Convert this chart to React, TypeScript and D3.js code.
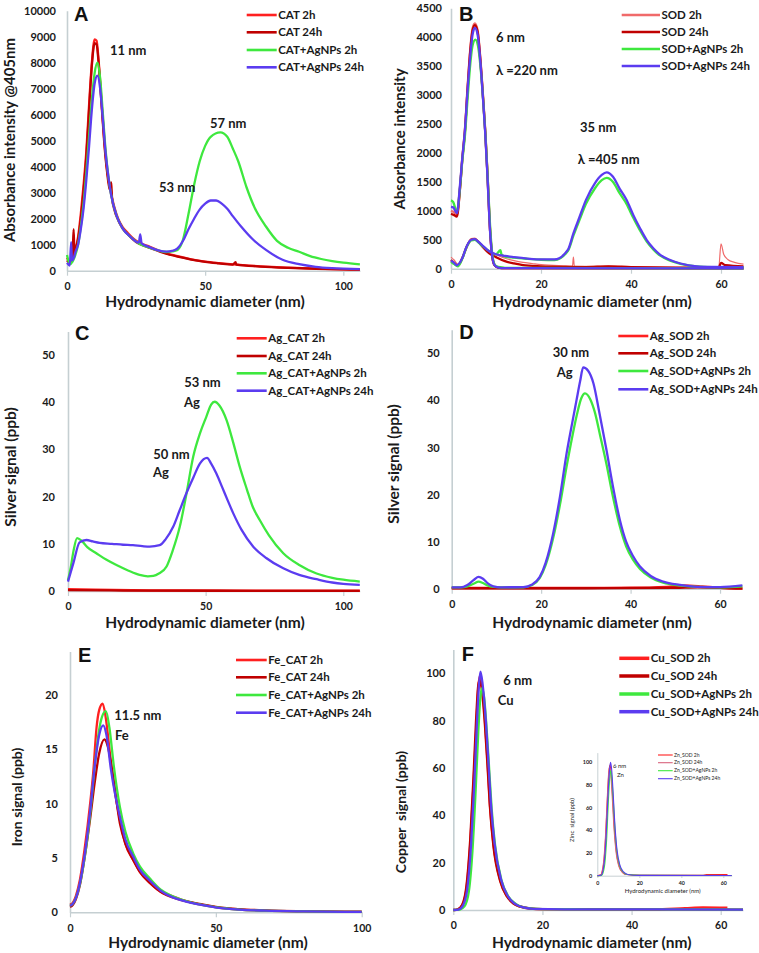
import React, { useEffect, useRef } from 'react';
import * as d3 from 'd3';

type Pt = [number, number];

// colours of the four sample series
const RED = '#ff2020';
const DARK_RED = '#c00000';
const GREEN = '#3ee83e';
const BLUE = '#5b3cf0';
const LIGHT_RED = '#f06a6a';
const PINK = '#d8637c';

// ---------- A: CAT, absorbance @405nm ----------
const catA_2h: Pt[] = [[0,500],[1,350],[2,500],[3,800],[4,1300],[5,2200],[6,3300],[7,4600],[8,6400],[9,8000],[10,8900],[10.7,8850],[11.5,8000],[12.5,6500],[13.5,5000],[14.5,3900],[15.5,3200],[17,2500],[18.5,2000],[20,1700],[22,1450],[25,1150],[28,1000],[30,920],[35,700],[40,560],[45,440],[50,350],[55,290],[60,240],[70,170],[80,120],[90,80],[100,55],[106,45]];
const catA_24h: Pt[] = [[0,400],[1,300],[2,600],[2.4,1600],[2.7,700],[3,800],[4,1200],[5,2000],[6,3100],[7,4400],[8,6200],[9,7900],[10,8750],[10.7,8700],[11.5,7900],[12.5,6400],[13.5,4900],[14.5,3800],[15.5,3100],[16,3400],[16.3,2800],[17,2400],[18.5,1950],[20,1650],[22,1400],[25,1100],[28,950],[30,880],[35,680],[40,540],[45,430],[50,340],[55,280],[60,230],[61,330],[61.3,230],[70,160],[80,110],[90,75],[100,50],[106,40]];
const catA_ag2h: Pt[] = [[0,600],[1,250],[2,350],[3,600],[4,1000],[5,1700],[6,2600],[7,3800],[8,5200],[9,6600],[10,7600],[11,8000],[12,7400],[13,6000],[14,4600],[15,3600],[16,2900],[18,2100],[20,1650],[23,1300],[26,1050],[30,880],[33,780],[36,720],[38,740],[40,800],[42,1200],[44,2200],[46,3300],[48,4200],[50,4800],[52,5150],[55.5,5320],[58,5150],[60,4700],[62,4200],[65,3200],[68,2400],[72,1700],[76,1150],[80,880],[84,730],[88,560],[92,450],[96,370],[100,310],[106,245]];
const catA_ag24h: Pt[] = [[0,300],[1,200],[1.5,1100],[1.8,400],[2.5,500],[3,700],[4,1000],[5,1600],[6,2400],[7,3500],[8,4800],[9,6200],[10,7200],[11,7500],[12,7000],[13,5800],[14,4500],[15,3600],[16,2900],[18,2100],[20,1650],[23,1300],[26,1080],[26.5,1400],[27,1050],[30,900],[33,780],[36,730],[38,760],[40,860],[42,1150],[44,1600],[46,2000],[48,2350],[50,2580],[52,2700],[54,2700],[56,2580],[58,2380],[60,2100],[63,1700],[67.5,1180],[72,800],[78,420],[84,250],[90,150],[96,100],[100,80],[106,60]];

// ---------- B: SOD, absorbance at 220 nm and 405 nm ----------
const sod_2h_220: Pt[] = [[0,1000],[0.6,980],[1.3,940],[2,1400],[2.5,1900],[3.1,2400],[3.7,3150],[4.3,3800],[4.8,4150],[5.3,4240],[5.9,4120],[6.5,3650],[7.1,3000],[7.6,2400],[8.1,1650],[8.7,650],[9.2,200],[9.7,60],[10.5,20],[12,10],[30,5],[65,5]];
const sod_24h_220: Pt[] = [[0,950],[0.6,930],[1.3,900],[2,1380],[2.5,1880],[3.1,2380],[3.7,3120],[4.3,3780],[4.8,4120],[5.3,4210],[5.9,4100],[6.5,3630],[7.1,2980],[7.6,2380],[8.1,1630],[8.7,640],[9.2,190],[9.7,60],[10.5,20],[12,10],[65,5]];
const sod_ag2h_220: Pt[] = [[0,1180],[0.5,1150],[1.3,980],[2,1400],[2.5,1850],[3.1,2300],[3.7,2950],[4.3,3550],[4.8,3860],[5.4,3960],[6,3850],[6.6,3450],[7.2,2850],[7.7,2250],[8.2,1500],[8.8,600],[9.3,180],[9.8,60],[10.5,30],[12,15],[65,5]];
const sod_ag24h_220: Pt[] = [[0,1070],[0.5,1060],[1.3,960],[2,1450],[2.5,1900],[3.1,2400],[3.7,3100],[4.3,3700],[4.8,4050],[5.3,4160],[5.9,4050],[6.5,3600],[7.1,2950],[7.6,2350],[8.1,1600],[8.7,620],[9.2,200],[9.7,60],[10.5,20],[12,10],[65,5]];
const sod_2h_405: Pt[] = [[0,200],[0.7,150],[1.5,80],[2.5,200],[3.5,400],[4.5,520],[5.3,530],[6,480],[7,400],[8,320],[9,270],[10,240],[12,180],[14,140],[16,110],[18,90],[20,70],[25,50],[27,45],[27.2,200],[27.4,45],[30,40],[35,45],[40,30],[50,25],[59.5,25],[60,430],[60.6,250],[61.5,160],[63,110],[65,80]];
const sod_24h_405: Pt[] = [[0,150],[0.7,100],[1.5,50],[2.5,180],[3.5,380],[4.5,500],[5.3,510],[6,470],[7,380],[8,300],[9,240],[10,200],[12,130],[14,90],[16,60],[20,40],[25,30],[30,28],[35,40],[40,28],[50,20],[59.5,20],[60,100],[61,60],[65,40]];
const sod_ag2h_405: Pt[] = [[0,120],[0.7,80],[1.5,40],[2.5,170],[3.5,380],[4.5,490],[5.3,500],[6,460],[7,390],[8,330],[9,280],[10,250],[11,320],[11.2,250],[12,210],[14,190],[17,170],[20,155],[23,150],[26,310],[27.2,570],[28.5,830],[30,1120],[32,1390],[33.5,1530],[34.6,1570],[36,1500],[37.5,1300],[39,1120],[40.5,880],[42,660],[43.5,470],[45,330],[46.5,225],[48.7,140],[51,85],[54.6,40],[58,28],[65,22]];
const sod_ag24h_405: Pt[] = [[0,140],[0.7,100],[1.3,60],[2.5,180],[3.5,390],[4.5,500],[5.3,510],[6,470],[7,400],[8,330],[9,280],[10,250],[12,220],[14,200],[17,175],[20,160],[23,160],[26,330],[27.2,610],[28.5,880],[30,1190],[32,1480],[33.5,1620],[34.6,1665],[36,1590],[37.5,1380],[39,1190],[40.5,930],[42,700],[43.5,495],[45,350],[46.5,240],[48.7,150],[51,90],[54.6,40],[58,30],[65,25]];

// ---------- C: Ag signal, CAT ----------
const agCat_2h: Pt[] = [[0,0.4],[10,0.3],[30,0.15],[60,0.1],[106,0.05]];
const agCat_24h: Pt[] = [[0,0.2],[20,0.1],[106,0.02]];
const agCat_ag2h: Pt[] = [[0,2.3],[1,5],[2,8.5],[3.3,11.2],[5,10.6],[7,9.3],[10.3,8],[14,6.6],[17.6,5.5],[22,4.3],[26,3.4],[29,3.1],[31,3.2],[33,3.7],[35.8,5.2],[38,8.5],[40.6,13.6],[43,20.5],[45.5,28.5],[48,33.5],[50.3,37],[52,39.5],[53.3,40.1],[55,39.3],[57.6,36.2],[60,31.5],[62.4,26.3],[65,21.5],[67,18],[69.7,15],[73,11.8],[78.2,8],[84,5.5],[90.3,3.7],[96,2.8],[100,2.4],[106,2]];
const agCat_ag24h: Pt[] = [[0,2],[2,6],[4.2,10.3],[6.7,10.8],[9,10.5],[11.5,10.2],[16,10],[20,9.8],[23.6,9.7],[27,9.5],[29.7,9.4],[33.3,9.7],[35.5,11],[38.2,13.6],[40.5,17],[43,20.7],[45.5,24],[47.9,27],[50.5,28.2],[52,27],[53.9,24.9],[56,22],[58,19.2],[60,16.5],[63,13],[67.3,9.4],[72,7],[78.2,4.8],[84,3.4],[90.3,2.5],[96,1.8],[100,1.5],[106,1.3]];

// ---------- D: Ag signal, SOD ----------
const agSod_2h: Pt[] = [[0,0.15],[20,0.15],[40,0.2],[48,0.4],[52,0.7],[56,0.5],[60,0.2],[65,0.1]];
const agSod_24h: Pt[] = [[0,0.1],[30,0.1],[50,0.2],[55,0.3],[62,0.1],[65,0]];
const agSod_ag2h: Pt[] = [[0,0.3],[2,0.3],[3.5,0.5],[5,1.1],[6,1.5],[7,1.2],[8,0.7],[9.3,0.4],[11,0.3],[16,0.3],[18,0.8],[19.7,2.3],[21,5],[22.7,10.8],[24.2,17.8],[25.7,26],[27,32.5],[28,37],[29,40.5],[29.8,41.5],[31,40.2],[32,37.5],[33.2,32.5],[34.6,26.5],[36,19.8],[37.6,13.2],[39,9],[40.5,6.2],[42.1,4.2],[44.5,2.4],[47.3,1.3],[51,0.7],[54.8,0.4],[60,0.3],[65,0.5]];
const agSod_ag24h: Pt[] = [[0,0.3],[2,0.3],[3.5,0.8],[5,1.9],[6,2.5],[7,2.1],[8,1.2],[9.3,0.5],[11,0.3],[16,0.35],[18,0.9],[19.7,2.5],[21,5.5],[22.7,11.8],[24.2,19.5],[25.7,28.8],[27,35.5],[27.9,40],[28.7,44],[29.4,47],[30.5,46.3],[31.7,43.6],[33,37.5],[34.6,29.5],[36,22],[37.6,14.6],[39,10],[40.5,7],[42.1,4.7],[44.5,2.7],[47.3,1.5],[51,0.8],[54.8,0.4],[60,0.35],[65,0.7]];

// ---------- E: Fe signal, CAT ----------
const feCat_2h: Pt[] = [[0,0.7],[1,0.9],[2,1.5],[3.4,3],[5,5.8],[6.9,10],[8,13],[9.1,17],[10,18.6],[11.2,19.2],[12.2,18],[13.7,14.6],[15,11.8],[17.1,8.5],[19,6.3],[21.7,4.8],[24,3.7],[27.4,2.7],[31,1.9],[35,1.5],[38.9,1.1],[44,0.75],[50.3,0.46],[58,0.25],[67,0.15],[80,0.08],[100,0.03]];
const feCat_24h: Pt[] = [[0,0.5],[1,0.7],[2,1.2],[3.4,2.5],[5,5],[6.9,8.6],[8.5,12],[10,14.6],[11.8,15.9],[13,15.2],[14.5,13],[17.1,8.2],[19,6.3],[21.7,4.8],[24,3.7],[27.4,2.7],[30,2.1],[33,1.6],[36,1.3],[40,1],[45,0.75],[50,0.5],[58,0.3],[67,0.18],[80,0.1],[100,0.05]];
const feCat_ag2h: Pt[] = [[0,0.6],[1,0.8],[2,1.3],[3.4,2.6],[5,5],[6.9,9],[8.5,13.5],[10,16.8],[11,18],[12.3,18.5],[13.5,17],[15,13.5],[17.1,9.7],[19,7.4],[21.7,5.4],[24,4.2],[27.4,3.1],[31,2.1],[35,1.5],[38.9,1.1],[44,0.75],[50.3,0.45],[58,0.25],[67,0.15],[80,0.08],[100,0.03]];
const feCat_ag24h: Pt[] = [[0,0.6],[1,0.8],[2,1.3],[3.4,2.7],[5,5.2],[6.9,9.3],[8.5,13.5],[10,16.3],[11.4,17.2],[12.5,16.3],[14,13.2],[15.5,10.8],[17.1,8.8],[19,6.7],[21.7,5.1],[24,3.9],[27.4,2.9],[31,2],[35,1.4],[38.9,1.05],[44,0.72],[50.3,0.44],[58,0.25],[67,0.15],[80,0.08],[100,0.03]];

// ---------- F: Cu signal, SOD ----------
const cuSod_2h: Pt[] = [[0,0],[1,0.3],[2,2],[3,10],[3.8,28],[4.5,52],[5.1,75],[5.6,94],[6,99],[6.5,94],[7.1,80],[7.7,62],[8.2,45],[9,28],[10.5,12.7],[12,6],[13.5,2.8],[15,1.5],[17.2,0.7],[20,0.4],[30,0.3],[45,0.3],[52,0.8],[56,1.1],[61.5,1]];
const cuSod_24h: Pt[] = [[0,0],[1,0.3],[2,2.2],[3,11],[3.8,30],[4.5,55],[5.1,80],[5.6,95],[5.9,97],[6.4,93],[7.1,78],[7.7,60],[8.2,44],[9,27],[10.5,12.3],[12,5.8],[13.5,2.7],[15,1.4],[17.2,0.6],[20,0.35],[40,0.3],[65,0.2]];
const cuSod_ag2h: Pt[] = [[0,0],[1.5,0.2],[2.5,1.5],[3.5,8],[4.3,25],[5,50],[5.6,75],[6,88],[6.4,93.7],[6.9,90],[7.5,76],[8.1,58],[8.6,43],[9.4,27],[10.9,12],[12.4,5.6],[14,2.6],[16,1],[20,0.4],[30,0.3],[65,0.2]];
const cuSod_ag24h: Pt[] = [[0,0],[1.2,0.2],[2.2,2],[3.2,10],[4,28],[4.7,53],[5.3,79],[5.8,96],[6.1,100.7],[6.6,95],[7.3,80],[7.9,62],[8.4,46],[9.2,29],[10.7,13],[12.2,6],[13.7,2.8],[15.5,1.2],[18,0.5],[25,0.3],[65,0.2]];

// ---------- F inset: Zn signal, SOD ----------
const znSod_2h: Pt[] = [[0,0],[1.5,0.5],[3,10],[4,35],[5,75],[5.6,92],[6,97],[6.5,92],[7.2,72],[8,45],[9,22],[10.5,8],[12,3],[14,1],[20,0.3],[50,0.3],[52,1],[62,1]];
const znSod_24h: Pt[] = [[0,0],[1.5,0.6],[3,12],[4,38],[5,78],[5.5,92],[5.8,95],[6.3,91],[7,73],[7.8,46],[8.8,23],[10.3,8],[12,3],[14,1],[20,0.3],[64,0.2]];
const znSod_ag2h: Pt[] = [[0,0],[2,0.3],[3.4,8],[4.4,30],[5.4,70],[6,88],[6.3,92],[6.8,88],[7.5,70],[8.3,44],[9.3,22],[10.8,8],[12.5,3],[14.5,1],[20,0.3],[64,0.2]];
const znSod_ag24h: Pt[] = [[0,0],[1.8,0.4],[3.2,10],[4.2,34],[5.2,74],[5.9,94],[6.3,99.5],[6.8,94],[7.5,74],[8.3,47],[9.3,24],[10.8,9],[12.5,3.3],[14.5,1.1],[20,0.3],[64,0.2]];

const ticks = {
  aY: d3.range(0, 10001, 1000), aX: [0, 50, 100],
  bY: d3.range(0, 4501, 500), bX: [0, 20, 40, 60],
  cY: [0, 10, 20, 30, 40, 50], cX: [0, 50, 100],
  dY: [0, 10, 20, 30, 40, 50], dX: [0, 20, 40, 60],
  eY: [0, 5, 10, 15, 20], eX: [0, 50, 100],
  fY: [0, 20, 40, 60, 80, 100], fX: [0, 20, 40, 60],
};

const FONT = "Lato, 'Open Sans', sans-serif";

const panels = [
  {
    letter: 'A', letterPos: [74, 14],
    frame: { left: 67, right: 359.9, bottom: 270.7, top: 10.7 },
    xDomain: [0, 106], yDomain: [0, 10000], xTicks: ticks.aX, yTicks: ticks.aY, yPad: 11,
    yTitle: 'Absorbance intensity @405nm', yTitlePos: [10, 140], yTitleSize: 15,
    xTitlePos: [205, 302],
    series: [
      { name: 'CAT 2h', color: RED, data: [catA_2h] },
      { name: 'CAT 24h', color: DARK_RED, data: [catA_24h] },
      { name: 'CAT+AgNPs 2h', color: GREEN, data: [catA_ag2h] },
      { name: 'CAT+AgNPs 24h', color: BLUE, data: [catA_ag24h] },
    ],
    legend: { x1: 246.7, x2: 276.7, ys: [15, 32.3, 50, 67.3], size: 11.5 },
    notes: [['11 nm', 110, 50], ['57 nm', 210, 123], ['53 nm', 159, 187]],
  },
  {
    letter: 'B', letterPos: [459, 14],
    frame: { left: 451, right: 743.5, bottom: 268.7, top: 8.3 },
    xDomain: [0, 65], yDomain: [0, 4500], xTicks: ticks.bX, yTicks: ticks.bY, yPad: 9,
    yTitle: 'Absorbance intensity', yTitlePos: [399.5, 139], yTitleSize: 15,
    xTitlePos: [592, 302],
    series: [
      { name: 'SOD 2h', color: LIGHT_RED, legendColor: LIGHT_RED, data: [sod_2h_405, sod_2h_220], widths: [1.2, 2.4] },
      { name: 'SOD 24h', color: DARK_RED, data: [sod_24h_405, sod_24h_220] },
      { name: 'SOD+AgNPs 2h', color: GREEN, data: [sod_ag2h_405, sod_ag2h_220] },
      { name: 'SOD+AgNPs 24h', color: BLUE, data: [sod_ag24h_405, sod_ag24h_220] },
    ],
    legend: { x1: 621.7, x2: 660, ys: [15, 32, 49, 66], size: 11.5 },
    notes: [['6 nm', 496, 37], ['λ =220 nm', 496, 70], ['35 nm', 580, 127], ['λ =405 nm', 577.7, 159]],
  },
  {
    letter: 'C', letterPos: [75, 333],
    frame: { left: 68, right: 359.8, bottom: 591, top: 331.4 },
    xDomain: [0, 106], yDomain: [0, 55], xTicks: ticks.cX, yTicks: ticks.cY, yPad: 13,
    yTitle: 'Silver signal (ppb)', yTitlePos: [11, 467], yTitleSize: 15.5,
    xTitlePos: [205, 623],
    series: [
      { name: 'Ag_CAT 2h', color: RED, data: [agCat_2h] },
      { name: 'Ag_CAT 24h', color: DARK_RED, data: [agCat_24h] },
      { name: 'Ag_CAT+AgNPs 2h', color: GREEN, data: [agCat_ag2h] },
      { name: 'Ag_CAT+AgNPs 24h', color: BLUE, data: [agCat_ag24h] },
    ],
    legend: { x1: 236.7, x2: 266.7, ys: [338.3, 356, 373.3, 390.7], size: 11.5 },
    notes: [['53 nm', 184.3, 382.7], ['Ag', 184, 402.3], ['50 nm', 153.3, 454], ['Ag', 153, 472.7]],
  },
  {
    letter: 'D', letterPos: [459.3, 331.7],
    frame: { left: 451.7, right: 742.4, bottom: 588.7, top: 329.8 },
    xDomain: [0, 65], yDomain: [0, 55], xTicks: ticks.dX, yTicks: ticks.dY, yPad: 12,
    yTitle: 'Silver signal (ppb)', yTitlePos: [394, 464], yTitleSize: 15.5,
    xTitlePos: [592, 623],
    series: [
      { name: 'Ag_SOD 2h', color: RED, data: [agSod_2h] },
      { name: 'Ag_SOD 24h', color: DARK_RED, data: [agSod_24h] },
      { name: 'Ag_SOD+AgNPs 2h', color: GREEN, data: [agSod_ag2h] },
      { name: 'Ag_SOD+AgNPs 24h', color: BLUE, data: [agSod_ag24h] },
    ],
    legend: { x1: 618.3, x2: 648.3, ys: [336, 353.3, 371, 389.3], size: 11.5 },
    notes: [['30 nm', 552.7, 352.3], ['Ag', 556.7, 372.7]],
  },
  {
    letter: 'E', letterPos: [78, 655],
    frame: { left: 70, right: 361.7, bottom: 912.3, top: 651.4 },
    xDomain: [0, 100], yDomain: [0, 24], xTicks: ticks.eX, yTicks: ticks.eY, yPad: 12,
    yTitle: 'Iron signal (ppb)', yTitlePos: [17.5, 797], yTitleSize: 14,
    xTitlePos: [208, 943],
    series: [
      { name: 'Fe_CAT 2h', color: RED, data: [feCat_2h] },
      { name: 'Fe_CAT 24h', color: DARK_RED, data: [feCat_24h] },
      { name: 'Fe_CAT+AgNPs 2h', color: GREEN, data: [feCat_ag2h] },
      { name: 'Fe_CAT+AgNPs 24h', color: BLUE, data: [feCat_ag24h] },
    ],
    legend: { x1: 236, x2: 266.7, ys: [660, 677.3, 695, 712.7], size: 11.5 },
    notes: [['11.5 nm', 114.3, 715], ['Fe', 115, 735]],
  },
  {
    letter: 'F', letterPos: [461.7, 653.3],
    frame: { left: 453.3, right: 743, bottom: 910, top: 649.6 },
    xDomain: [0, 65], yDomain: [0, 110], xTicks: ticks.fX, yTicks: ticks.fY, yPad: 8,
    yTitle: 'Copper  signal (ppb)', yTitlePos: [401, 812], yTitleSize: 14,
    xTitlePos: [591.7, 943],
    series: [
      { name: 'Cu_SOD 2h', color: RED, data: [cuSod_2h] },
      { name: 'Cu_SOD 24h', color: DARK_RED, data: [cuSod_24h] },
      { name: 'Cu_SOD+AgNPs 2h', color: GREEN, data: [cuSod_ag2h] },
      { name: 'Cu_SOD+AgNPs 24h', color: BLUE, data: [cuSod_ag24h] },
    ],
    legend: { x1: 619.3, x2: 649.3, ys: [658.3, 676, 694, 711.7], size: 11.5, lw: 3.5 },
    notes: [['6 nm', 503.3, 680], ['Cu', 497.7, 700]],
  },
];

const inset = {
  frame: { left: 597.3, right: 731.7, bottom: 875.7, top: 752.6 },
  xDomain: [0, 64], yDomain: [0, 108], xTicks: ticks.fX, yTicks: ticks.fY,
  series: [
    { name: 'Zn_SOD 2h', color: RED, data: [znSod_2h] },
    { name: 'Zn_SOD 24h', color: PINK, data: [znSod_24h] },
    { name: 'Zn_SOD+AgNPs 2h', color: GREEN, data: [znSod_ag2h] },
    { name: 'Zn_SOD+AgNPs 24h', color: BLUE, data: [znSod_ag24h] },
  ],
};

const App = () => {
  const svgRef = useRef<SVGSVGElement>(null);

  useEffect(() => {
    if (!svgRef.current) return;
    const svg = d3.select(svgRef.current);
    svg.selectAll('*').remove();
    svg.append('rect').attr('width', 759).attr('height', 953).attr('fill', '#fff');

    const drawAxes = (g: any, x: any, y: any, p: any, s: number, yPad: number, tickLen: number) => {
      const ax = g.append('g').attr('transform', `translate(0,${p.frame.bottom})`)
        .call(d3.axisBottom(x).tickValues(p.xTicks).tickFormat(d3.format('d'))
          .tickSizeInner(tickLen).tickSizeOuter(0).tickPadding(7 * s));
      const ay = g.append('g').attr('transform', `translate(${p.frame.left},0)`)
        .call(d3.axisLeft(y).tickValues(p.yTicks).tickFormat(d3.format('d'))
          .tickSize(0).tickPadding(yPad));
      [ax, ay].forEach(a => {
        a.select('.domain').attr('stroke', '#c5cfd2').attr('stroke-width', 1.6 * Math.max(s, 0.6));
        a.selectAll('.tick line').attr('stroke', '#c5cfd2').attr('stroke-width', 1.2);
        a.selectAll('text').attr('font-family', FONT).attr('font-weight', 'bold').attr('fill', '#1a1a1a');
      });
      ax.selectAll('text').attr('font-size', 10.5 * s);
      ay.selectAll('text').attr('font-size', 11 * s);
    };

    const drawSeries = (g: any, x: any, y: any, series: any[], lw: number) => {
      const line = d3.line<Pt>().x(d => x(d[0])).y(d => y(d[1])).curve(d3.curveMonotoneX);
      series.forEach(sr => {
        sr.data.forEach((arr: Pt[], i: number) => {
          g.append('path').attr('d', line(arr)).attr('fill', 'none')
            .attr('stroke', sr.color).attr('stroke-width', sr.widths ? sr.widths[i] : lw)
            .attr('stroke-linejoin', 'round');
        });
      });
    };

    panels.forEach(p => {
      const g = svg.append('g');
      const x = d3.scaleLinear().domain(p.xDomain).range([p.frame.left, p.frame.right]);
      const y = d3.scaleLinear().domain(p.yDomain).range([p.frame.bottom, p.frame.top]);
      drawAxes(g, x, y, p, 1, p.yPad, 5);
      drawSeries(g, x, y, p.series, 2.3);

      // legend
      const lg = g.append('g');
      p.series.forEach((sr: any, i: number) => {
        const ly = p.legend.ys[i];
        lg.append('line').attr('x1', p.legend.x1).attr('x2', p.legend.x2).attr('y1', ly).attr('y2', ly)
          .attr('stroke', sr.legendColor || sr.color).attr('stroke-width', p.legend.lw || 2.6);
        lg.append('text').attr('x', p.legend.x2 + 1.5).attr('y', ly).attr('dy', '0.35em')
          .attr('font-family', FONT).attr('font-weight', 'bold').attr('font-size', p.legend.size)
          .attr('fill', '#1a1a1a').text(sr.name);
      });

      // annotations
      p.notes.forEach(([t, nx, ny]: any) => {
        g.append('text').attr('x', nx).attr('y', ny).attr('dy', '0.35em')
          .attr('font-family', FONT).attr('font-weight', 'bold').attr('font-size', 13)
          .attr('fill', '#1a1a1a').text(t);
      });

      // panel letter
      g.append('text').attr('x', p.letterPos[0]).attr('y', p.letterPos[1]).attr('dy', '0.36em')
        .attr('font-family', "'Liberation Sans', Arial, sans-serif").attr('font-weight', 'bold')
        .attr('font-size', 20).attr('fill', '#111').text(p.letter);

      // axis titles
      g.append('text').attr('transform', `translate(${p.yTitlePos[0]},${p.yTitlePos[1]}) rotate(-90)`)
        .attr('text-anchor', 'middle').attr('dy', '0.35em').style('white-space', 'pre')
        .attr('font-family', FONT).attr('font-weight', 'bold').attr('font-size', p.yTitleSize)
        .attr('fill', '#1a1a1a').text(p.yTitle);
      g.append('text').attr('x', p.xTitlePos[0]).attr('y', p.xTitlePos[1]).attr('dy', '0.35em')
        .attr('text-anchor', 'middle').attr('font-family', FONT).attr('font-weight', 'bold')
        .attr('font-size', 15.5).attr('fill', '#1a1a1a').text('Hydrodynamic diameter (nm)');
    });

    // inset of panel F
    {
      const p: any = inset;
      const g = svg.append('g');
      const x = d3.scaleLinear().domain(p.xDomain).range([p.frame.left, p.frame.right]);
      const y = d3.scaleLinear().domain(p.yDomain).range([p.frame.bottom, p.frame.top]);
      drawAxes(g, x, y, p, 0.5, 5, 2);
      drawSeries(g, x, y, p.series, 1.1);
      const ys = [755, 762.7, 770.7, 778.7];
      p.series.forEach((sr: any, i: number) => {
        g.append('line').attr('x1', 658).attr('x2', 672.7).attr('y1', ys[i]).attr('y2', ys[i])
          .attr('stroke', sr.color).attr('stroke-width', 1.1);
        g.append('text').attr('x', 674).attr('y', ys[i]).attr('dy', '0.35em')
          .attr('font-family', FONT).attr('font-size', 5).attr('fill', '#1a1a1a').text(sr.name);
      });
      [['6 nm', 613, 765.7], ['Zn', 617, 775]].forEach(([t, nx, ny]: any) => {
        g.append('text').attr('x', nx).attr('y', ny).attr('dy', '0.35em')
          .attr('font-family', FONT).attr('font-size', 6).attr('fill', '#1a1a1a').text(t);
      });
      g.append('text').attr('transform', 'translate(571.7,820) rotate(-90)')
        .attr('text-anchor', 'middle').attr('dy', '0.35em').style('white-space', 'pre')
        .attr('font-family', FONT).attr('font-size', 6).attr('fill', '#1a1a1a').text('Zinc  signal (ppb)');
      g.append('text').attr('x', 662.7).attr('y', 890.7).attr('dy', '0.35em').attr('text-anchor', 'middle')
        .attr('font-family', FONT).attr('font-size', 6).attr('fill', '#1a1a1a').text('Hydrodynamic diameter (nm)');
    }
  }, []);

  return (
    <svg ref={svgRef} width={759} height={953}
      style={{ position: 'absolute', left: 0, top: 0, display: 'block' }} />
  );
};

export default App;
